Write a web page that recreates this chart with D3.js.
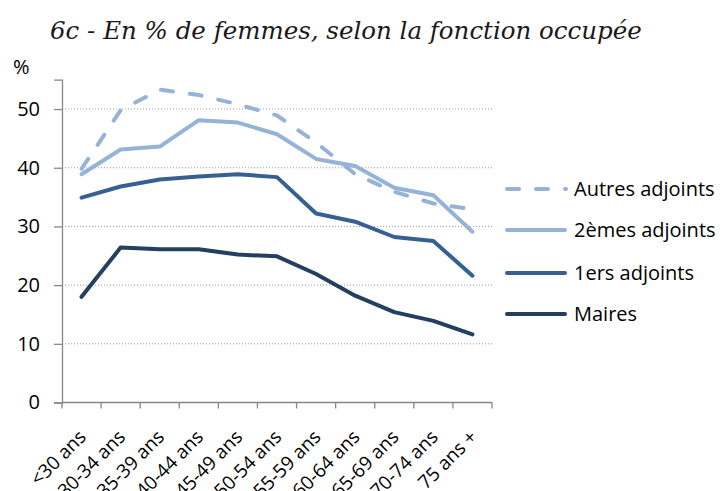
<!DOCTYPE html>
<html>
<head>
<meta charset="utf-8">
<script src="https://cdn.jsdelivr.net/npm/d3@7"></script>
<style>
  html, body { margin: 0; padding: 0; background: #fff; }
  svg { display: block; }
</style>
</head>
<body>
<svg id="chart" width="722" height="491"></svg>
<script>
const title = "6c - En % de femmes, selon la fonction occupée";
const yLabel = "%";
const categories = ["<30 ans","30-34 ans","35-39 ans","40-44 ans","45-49 ans","50-54 ans","55-59 ans","60-64 ans","65-69 ans","70-74 ans","75 ans +"];
const autres    = [39.8, 49.8, 53.3, 52.4, 50.8, 48.9, 44.3, 38.9, 35.9, 33.9, 32.9];
const deuxiemes = [38.9, 43.1, 43.6, 48.1, 47.7, 45.7, 41.5, 40.3, 36.6, 35.3, 29.1];
const premiers  = [34.9, 36.8, 38.0, 38.5, 38.9, 38.4, 32.2, 30.8, 28.2, 27.5, 21.6];
const maires    = [18.0, 26.4, 26.1, 26.1, 25.2, 24.9, 21.9, 18.2, 15.4, 13.9, 11.6];
const seriesNames = ["Autres adjoints", "2èmes adjoints", "1ers adjoints", "Maires"];
const yTicks = [0, 10, 20, 30, 40, 50];

const series = [
  { name: seriesNames[0], values: autres,    color: "#95B3D7", dash: "12,17" },
  { name: seriesNames[1], values: deuxiemes, color: "#95B3D7", dash: null },
  { name: seriesNames[2], values: premiers,  color: "#376092", dash: null },
  { name: seriesNames[3], values: maires,    color: "#243F60", dash: null }
];

const svg = d3.select("#chart");
const font = "'Open Sans', sans-serif";
const plot = { left: 62, right: 492, top: 79.7, bottom: 402.5 };

const x = d3.scaleBand().domain(categories).range([plot.left, plot.right]).padding(0);
const y = d3.scaleLinear().domain([0, 55]).range([plot.bottom, plot.top]);

// title
svg.append("text")
  .attr("x", 50).attr("y", 39)
  .attr("font-family", "'DejaVu Serif', serif")
  .attr("font-style", "italic")
  .attr("font-size", 24.5)
  .attr("fill", "#1a1a1a")
  .text(title);

// y label
svg.append("text")
  .attr("x", 13).attr("y", 74)
  .attr("font-family", font).attr("font-size", 20)
  .attr("fill", "#000")
  .text(yLabel);

// gridlines
svg.append("g").selectAll("line")
  .data(yTicks.filter(d => d > 0))
  .join("line")
  .attr("x1", plot.left).attr("x2", plot.right)
  .attr("y1", d => y(d)).attr("y2", d => y(d))
  .attr("stroke", "#9a9a9a").attr("stroke-width", 1)
  .attr("stroke-dasharray", "1,2");

// y axis
const yAxis = svg.append("g")
  .attr("transform", `translate(${plot.left},0)`)
  .call(d3.axisLeft(y).tickValues(yTicks).tickSize(8).tickPadding(14).tickFormat(d3.format("d")));
yAxis.select(".domain").attr("stroke", "#868686").attr("stroke-width", 1.3);
yAxis.selectAll(".tick line").attr("stroke", "#868686").attr("stroke-width", 1.3);
yAxis.selectAll(".tick text").attr("font-family", font).attr("font-size", 20).attr("fill", "#000");

// x axis
const xAxisG = svg.append("g").attr("transform", `translate(0,${plot.bottom})`);
xAxisG.append("line")
  .attr("x1", plot.left).attr("x2", plot.right)
  .attr("stroke", "#868686").attr("stroke-width", 1.3);
const boundaries = categories.map(c => x(c)).concat([x(categories[categories.length - 1]) + x.bandwidth()]);
xAxisG.selectAll("line.tk").data(boundaries).join("line")
  .attr("class", "tk")
  .attr("x1", d => d).attr("x2", d => d)
  .attr("y1", 0).attr("y2", 6)
  .attr("stroke", "#868686").attr("stroke-width", 1.3);
xAxisG.selectAll("text").data(categories).join("text")
  .attr("transform", d => `translate(${x(d) + x.bandwidth() / 2 + 1},${31}) rotate(-45)`)
  .attr("text-anchor", "end")
  .attr("dy", "0.35em")
  .attr("font-family", font).attr("font-size", 19)
  .attr("fill", "#000")
  .text(d => d);

// lines
const line = d3.line()
  .x((d, i) => x(categories[i]) + x.bandwidth() / 2)
  .y(d => y(d));

const drawOrder = [series[3], series[2], series[1], series[0]];
svg.append("g").selectAll("path")
  .data(drawOrder)
  .join("path")
  .attr("d", d => line(d.values))
  .attr("fill", "none")
  .attr("stroke", d => d.color)
  .attr("stroke-width", 4)
  .attr("stroke-linejoin", "round")
  .attr("stroke-linecap", "round")
  .attr("stroke-dasharray", d => d.dash);

// legend
const legendY = [189, 230, 273, 314];
const lg = svg.append("g").selectAll("g").data(series).join("g")
  .attr("transform", (d, i) => `translate(0,${legendY[i]})`);
lg.append("line")
  .attr("x1", 507).attr("x2", d => d.dash ? 566 : 565)
  .attr("stroke", d => d.color).attr("stroke-width", 4)
  .attr("stroke-linecap", "round")
  .attr("stroke-dasharray", d => d.dash);
lg.append("text")
  .attr("x", 574).attr("dy", "0.35em")
  .attr("font-family", font).attr("font-size", 20)
  .attr("fill", "#000")
  .text(d => d.name);
</script>
</body>
</html>
